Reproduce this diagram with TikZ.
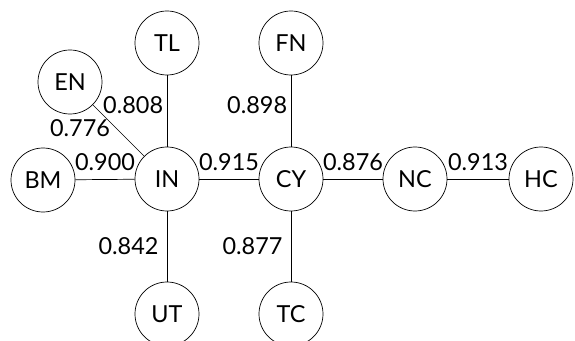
\documentclass[tikz,border=0pt]{standalone}
\usepackage{fontspec}
\setmainfont{Lato}
\tikzset{
  cell/.style={draw, circle, minimum size=1.92cm, inner sep=0pt, font=\fontsize{20}{20}\selectfont},
  weight/.style={font=\fontsize{20}{20}\selectfont, inner sep=0pt}
}
\begin{document}
\begin{tikzpicture}[x=0.03cm, y=-0.03cm, line width=0.6pt]
            \useasboundingbox (0,0) rectangle (575,341);
            \node[cell] (TL) at (167,43) {TL};
            \node[cell] (FN) at (291,43) {FN};
            \node[cell] (EN) at (70,82) {EN};
            \node[cell] (BM) at (43,180) {BM};
            \node[cell] (IN) at (167,179) {IN};
            \node[cell] (CY) at (291,179) {CY};
            \node[cell] (NC) at (415,179) {NC};
            \node[cell] (HC) at (541,179) {HC};
            \node[cell] (UT) at (167,314) {UT};
            \node[cell] (TC) at (291,314) {TC};
            \draw (TL) to node[weight, pos=0.42, left=3pt]{0.808} (IN);
            \draw (EN) to node[weight, midway, left=7pt, yshift=2pt]{0.776} (IN);
            \draw (BM) to node[weight, midway, above=7pt]{0.900} (IN);
            \draw (IN) to node[weight, midway, above=7pt]{0.915} (CY);
            \draw (FN) to node[weight, pos=0.42, left=3pt]{0.898} (CY);
            \draw (CY) to node[weight, midway, above=7pt]{0.876} (NC);
            \draw (NC) to node[weight, midway, above=7pt]{0.913} (HC);
            \draw (IN) to node[weight, midway, left=7pt]{0.842} (UT);
            \draw (CY) to node[weight, midway, left=7pt]{0.877} (TC);
          \end{tikzpicture}
\end{document}
